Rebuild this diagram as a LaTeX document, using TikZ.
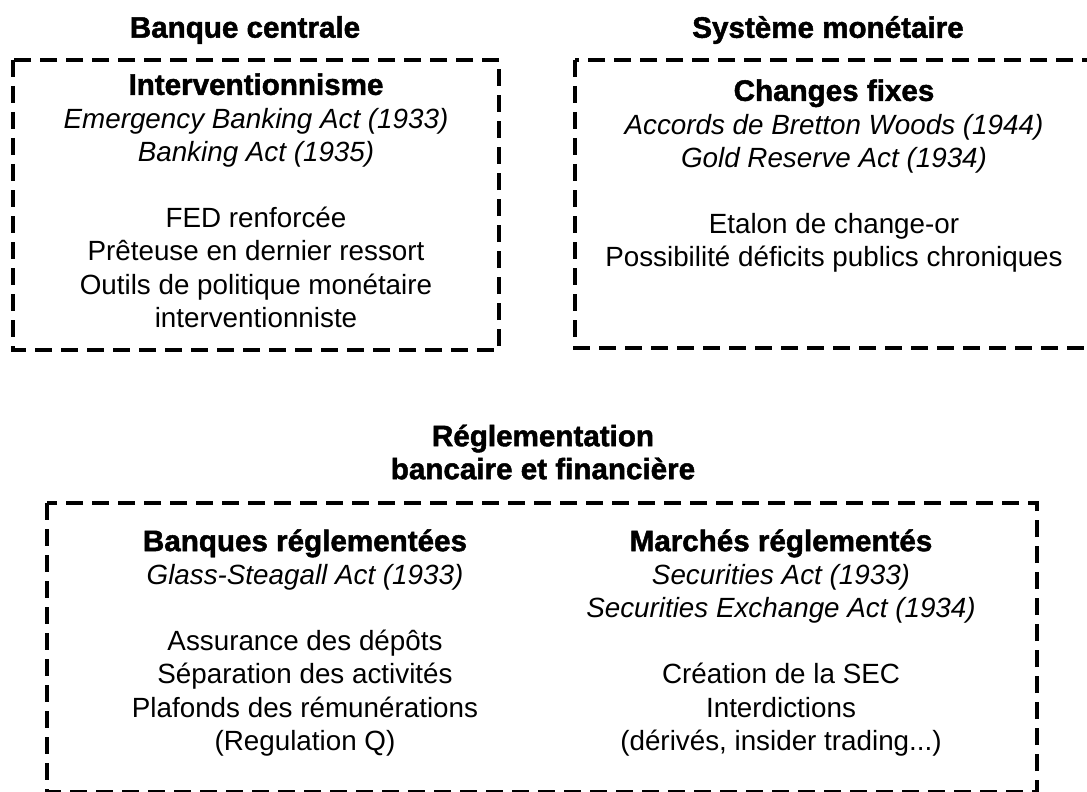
\documentclass[tikz,border=0pt]{standalone}
\usepackage{fontspec}
\setmainfont{Liberation Sans}
\newfontfamily\heavyfont[BoldFeatures={FakeBold=1.6}]{Liberation Sans}
\usetikzlibrary{positioning}

\newcommand\hd{\heavyfont\bfseries\fontsize{14.8}{16.5}\selectfont}

\tikzset{
  frame/.style={draw, line width=1.7pt, dash pattern=on 8.5pt off 4.5pt},
  heading/.style={font=\hd, align=center, inner sep=0pt},
  body/.style={font=\fontsize{13.9}{16.6}\selectfont, align=center, inner sep=0pt, anchor=north}
}

\begin{document}
\begin{tikzpicture}[x=0.5pt, y=-0.5pt]
    \useasboundingbox (0,0) rectangle (1087,792);
    \clip (0,0) rectangle (1087,792);

    % banque centrale
    \node [heading] (bc) at (245,30) {Banque centrale};
    \draw [frame] (13,60) rectangle (499,350);
    \node [body] (bcbox) at (256,73) {%
      {\hd Interventionnisme}\\
      \textit{Emergency Banking Act (1933)}\\
      \textit{Banking Act (1935)}\\[16.6pt]
      FED renforcée\\
      Prêteuse en dernier ressort\\
      Outils de politique monétaire\\
      interventionniste};

    % systeme monetaire
    \node [heading] (sm) at (828,30) {Système monétaire};
    \draw [frame] (575,60) rectangle (1095,348);
    \node [body] (smbox) at (834,79) {%
      {\hd Changes fixes}\\
      \textit{Accords de Bretton Woods (1944)}\\
      \textit{Gold Reserve Act (1934)}\\[16.6pt]
      Etalon de change-or\\
      Possibilité déficits publics chroniques};

    % reglementation
    \node [heading] (rg) at (543,452) {Réglementation\\bancaire et financière};
    \draw [frame] (47,503) rectangle (1037,792);
    \node [body] (banques) at (305,529) {%
      {\hd Banques réglementées}\\
      \textit{Glass-Steagall Act (1933)}\\[16.6pt]
      Assurance des dépôts\\
      Séparation des activités\\
      Plafonds des rémunérations\\
      (Regulation Q)};
    \node [body] (marches) at (781,529) {%
      {\hd Marchés réglementés}\\
      \textit{Securities Act (1933)}\\
      \textit{Securities Exchange Act (1934)}\\[16.6pt]
      Création de la SEC\\
      Interdictions\\
      (dérivés, insider trading...)};
\end{tikzpicture}
\end{document}
